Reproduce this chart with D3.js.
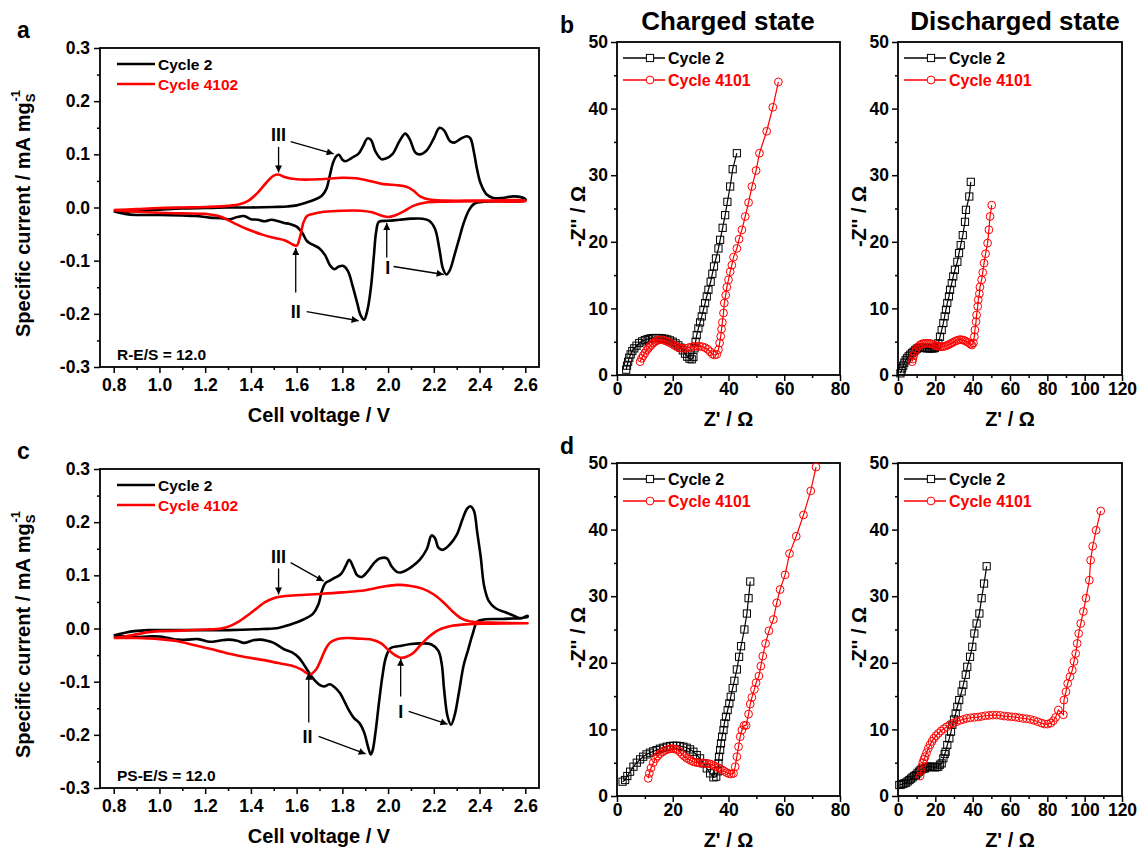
<!DOCTYPE html>
<html><head><meta charset="utf-8">
<script src="https://cdn.jsdelivr.net/npm/d3@7"></script>
<style>body{margin:0;background:#fff}svg{display:block}</style>
</head><body><svg id="chart" width="1139" height="850"></svg>
<script>
// ---------------- DATA ----------------
const cvXTicks=[0.8,1.0,1.2,1.4,1.6,1.8,2.0,2.2,2.4,2.6];
const cvXMinor=[0.9,1.1,1.3,1.5,1.7,1.9,2.1,2.3,2.5];
const cvYTicks=[-0.3,-0.2,-0.1,0.0,0.1,0.2,0.3];
const cvYMinor=[-0.25,-0.15,-0.05,0.05,0.15,0.25];
const eisYTicks=[0,10,20,30,40,50];
const eisYMinor=[5,15,25,35,45];
const eisXTicksCharged=[0,20,40,60,80];
const eisXMinorCharged=[10,30,50,70];
const eisXTicksDischarged=[0,20,40,60,80,100,120];
const eisXMinorDischarged=[10,30,50,70,90,110];

const cvSeriesNames=["Cycle 2","Cycle 4102"];
const eisSeriesNames=["Cycle 2","Cycle 4101"];

// Panel a (R-E/S = 12.0): [V, mA/mg]
const cvA_cycle2=[[0.80,-0.007],[0.85,-0.008],[0.90,-0.006],[1.00,-0.004],[1.10,-0.002],[1.20,-0.001],[1.30,0.000],[1.40,0.000],[1.50,0.001],[1.56,0.002],[1.60,0.004],[1.64,0.009],[1.68,0.015],[1.71,0.022],[1.73,0.035],[1.745,0.06],[1.76,0.085],[1.775,0.097],[1.785,0.099],[1.80,0.09],[1.815,0.087],[1.84,0.093],[1.87,0.101],[1.89,0.115],[1.91,0.130],[1.925,0.127],[1.945,0.105],[1.97,0.091],[1.99,0.092],[2.02,0.101],[2.05,0.125],[2.075,0.139],[2.095,0.128],[2.12,0.103],[2.14,0.100],[2.17,0.108],[2.20,0.130],[2.225,0.150],[2.245,0.145],[2.27,0.125],[2.29,0.122],[2.32,0.130],[2.345,0.134],[2.36,0.130],[2.375,0.105],[2.39,0.07],[2.405,0.045],[2.43,0.025],[2.46,0.018],[2.50,0.018],[2.55,0.021],[2.60,0.016],
[2.60,0.013],[2.50,0.012],[2.42,0.011],[2.38,0.008],[2.355,-0.004],[2.33,-0.030],[2.31,-0.060],[2.29,-0.090],[2.27,-0.118],[2.255,-0.126],[2.24,-0.115],[2.225,-0.080],[2.205,-0.040],[2.18,-0.025],[2.15,-0.021],[2.10,-0.021],[2.05,-0.023],[2.00,-0.025],[1.96,-0.027],[1.948,-0.045],[1.938,-0.090],[1.925,-0.150],[1.91,-0.192],[1.895,-0.211],[1.88,-0.203],[1.865,-0.180],[1.845,-0.148],[1.825,-0.120],[1.805,-0.110],[1.785,-0.111],[1.765,-0.116],[1.745,-0.108],[1.725,-0.090],[1.70,-0.077],[1.67,-0.070],[1.645,-0.063],[1.625,-0.048],[1.60,-0.036],[1.57,-0.031],[1.545,-0.029],[1.52,-0.026],[1.49,-0.023],[1.46,-0.026],[1.43,-0.023],[1.40,-0.022],[1.37,-0.016],[1.34,-0.018],[1.31,-0.022],[1.27,-0.020],[1.22,-0.019],[1.16,-0.016],[1.10,-0.015],[1.00,-0.014],[0.90,-0.014],[0.85,-0.012],[0.80,-0.007]];
const cvA_cycle4102=[[0.80,-0.005],[0.90,-0.003],[1.00,-0.001],[1.10,0.000],[1.20,0.001],[1.30,0.003],[1.35,0.006],[1.39,0.013],[1.43,0.028],[1.47,0.048],[1.50,0.060],[1.52,0.062],[1.55,0.057],[1.60,0.053],[1.70,0.053],[1.80,0.056],[1.86,0.055],[1.92,0.050],[1.98,0.044],[2.04,0.042],[2.08,0.039],[2.11,0.032],[2.14,0.021],[2.18,0.015],[2.25,0.013],[2.40,0.013],[2.60,0.013],
[2.60,0.012],[2.40,0.012],[2.25,0.011],[2.16,0.009],[2.11,0.003],[2.07,-0.007],[2.03,-0.015],[2.00,-0.018],[1.97,-0.015],[1.93,-0.009],[1.88,-0.006],[1.80,-0.006],[1.72,-0.008],[1.67,-0.012],[1.645,-0.016],[1.63,-0.028],[1.615,-0.055],[1.60,-0.072],[1.585,-0.070],[1.55,-0.062],[1.50,-0.057],[1.45,-0.051],[1.38,-0.040],[1.32,-0.028],[1.26,-0.016],[1.20,-0.012],[1.10,-0.011],[1.00,-0.010],[0.90,-0.008],[0.80,-0.005]];

// Panel c (PS-E/S = 12.0)
const cvC_cycle2=[[0.80,-0.013],[0.85,-0.008],[0.89,-0.005],[0.95,-0.003],[1.10,-0.003],[1.30,-0.003],[1.45,-0.001],[1.52,0.001],[1.57,0.007],[1.63,0.017],[1.67,0.027],[1.695,0.045],[1.71,0.07],[1.725,0.085],[1.745,0.09],[1.77,0.096],[1.795,0.103],[1.815,0.118],[1.83,0.129],[1.85,0.113],[1.865,0.100],[1.885,0.097],[1.91,0.107],[1.94,0.124],[1.965,0.132],[1.995,0.132],[2.015,0.117],[2.04,0.106],[2.06,0.106],[2.10,0.115],[2.14,0.130],[2.17,0.150],[2.19,0.175],[2.205,0.170],[2.22,0.152],[2.24,0.148],[2.27,0.158],[2.30,0.176],[2.325,0.205],[2.345,0.225],[2.36,0.230],[2.375,0.222],[2.39,0.18],[2.405,0.135],[2.42,0.08],[2.44,0.052],[2.47,0.038],[2.51,0.031],[2.55,0.024],[2.58,0.019],[2.61,0.024],
[2.61,0.022],[2.50,0.018],[2.42,0.017],[2.39,0.013],[2.37,-0.010],[2.35,-0.040],[2.33,-0.070],[2.31,-0.120],[2.29,-0.165],[2.275,-0.181],[2.26,-0.165],[2.245,-0.115],[2.235,-0.068],[2.22,-0.042],[2.19,-0.030],[2.15,-0.028],[2.10,-0.029],[2.05,-0.033],[2.01,-0.037],[1.99,-0.055],[1.975,-0.090],[1.96,-0.140],[1.945,-0.195],[1.932,-0.230],[1.924,-0.237],[1.912,-0.222],[1.895,-0.195],[1.875,-0.178],[1.85,-0.168],[1.83,-0.155],[1.81,-0.138],[1.79,-0.122],[1.765,-0.110],[1.745,-0.105],[1.72,-0.109],[1.70,-0.106],[1.68,-0.098],[1.66,-0.087],[1.635,-0.070],[1.61,-0.055],[1.58,-0.045],[1.545,-0.039],[1.50,-0.027],[1.47,-0.023],[1.44,-0.021],[1.41,-0.022],[1.37,-0.027],[1.34,-0.023],[1.30,-0.021],[1.26,-0.023],[1.22,-0.025],[1.17,-0.020],[1.12,-0.021],[1.08,-0.021],[1.04,-0.018],[1.00,-0.015],[0.95,-0.015],[0.90,-0.016],[0.85,-0.015],[0.80,-0.013]];
const cvC_cycle4102=[[0.80,-0.018],[0.85,-0.015],[0.90,-0.011],[0.95,-0.007],[1.00,-0.005],[1.10,-0.004],[1.20,-0.002],[1.27,0.000],[1.31,0.005],[1.35,0.014],[1.39,0.026],[1.42,0.036],[1.46,0.049],[1.50,0.057],[1.55,0.061],[1.62,0.063],[1.70,0.065],[1.80,0.068],[1.90,0.072],[1.97,0.078],[2.04,0.082],[2.10,0.080],[2.15,0.075],[2.20,0.064],[2.24,0.050],[2.28,0.033],[2.32,0.019],[2.36,0.013],[2.45,0.011],[2.61,0.010],
[2.61,0.010],[2.45,0.009],[2.35,0.008],[2.28,0.005],[2.22,-0.003],[2.18,-0.015],[2.14,-0.032],[2.11,-0.046],[2.08,-0.053],[2.055,-0.055],[2.03,-0.050],[2.00,-0.040],[1.97,-0.028],[1.93,-0.021],[1.87,-0.019],[1.82,-0.018],[1.77,-0.021],[1.745,-0.027],[1.725,-0.040],[1.705,-0.060],[1.685,-0.077],[1.66,-0.086],[1.645,-0.084],[1.62,-0.077],[1.58,-0.070],[1.52,-0.065],[1.45,-0.059],[1.38,-0.054],[1.30,-0.047],[1.22,-0.038],[1.15,-0.031],[1.08,-0.024],[1.00,-0.020],[0.90,-0.018],[0.80,-0.018]];

// Panel b: Nyquist [Z', -Z'']
const eisB_charged_cycle2=[[3.3,0.8],[3.6,1.4],[4.0,2.0],[4.4,2.6],[4.9,3.1],[5.5,3.6],[6.2,4.0],[7.0,4.4],[8.0,4.8],[9.0,5.05],[10.0,5.25],[11.0,5.4],[12.0,5.5],[13.0,5.55],[14.0,5.55],[15.0,5.55],[16.0,5.5],[17.0,5.45],[18.0,5.35],[19.0,5.2],[20.0,5.0],[21.0,4.75],[22.0,4.45],[22.8,4.1],[23.6,3.7],[24.4,3.2],[25.2,2.75],[26.0,2.45],[26.8,2.35],[27.4,2.7],[27.8,4.0],[28.2,5.0],[28.6,6.0],[29.2,7.0],[29.8,7.9],[30.4,8.8],[31.0,9.8],[31.6,10.8],[32.2,11.8],[32.8,12.8],[33.6,14.0],[34.2,15.2],[34.8,16.3],[35.5,17.5],[36.4,19.0],[37.0,20.3],[37.9,22.1],[38.8,24.0],[39.6,26.0],[40.6,28.3],[41.5,30.9],[43.0,33.3]];
const eisB_charged_cycle4101=[[8.3,2.0],[8.8,2.5],[9.4,2.9],[10.0,3.3],[10.6,3.7],[11.2,4.0],[11.8,4.3],[12.4,4.55],[13.0,4.8],[13.6,5.0],[14.2,5.15],[14.8,5.25],[15.6,5.3],[16.6,5.25],[17.6,5.1],[18.4,4.95],[19.2,4.8],[20.0,4.6],[20.8,4.4],[21.6,4.2],[22.6,4.05],[23.6,4.0],[24.6,4.0],[25.6,4.1],[26.6,4.2],[27.6,4.3],[28.6,4.3],[29.6,4.3],[30.6,4.25],[31.6,4.1],[32.6,3.85],[33.4,3.5],[34.2,3.15],[35.0,3.0],[35.8,3.1],[36.4,3.8],[36.8,4.8],[37.2,5.8],[37.5,6.9],[37.8,7.9],[38.2,9.3],[38.5,10.8],[39.0,12.0],[39.4,13.2],[40.0,14.3],[40.6,15.5],[41.2,16.5],[41.8,17.7],[43.0,19.0],[43.8,20.4],[44.8,21.8],[46.0,23.8],[47.2,25.9],[48.4,28.3],[49.9,30.7],[51.1,33.3],[53.7,36.6],[55.9,40.2],[57.9,44.0]];
const eisB_discharged_cycle2=[[1.3,0.25],[1.8,0.6],[2.2,1.0],[2.8,1.4],[3.4,1.85],[4.1,2.2],[4.8,2.5],[5.7,2.8],[6.6,3.05],[7.5,3.3],[8.4,3.5],[9.3,3.75],[10.1,3.95],[11.0,4.05],[11.9,4.1],[12.8,4.1],[13.7,4.1],[14.6,4.05],[15.5,4.0],[16.4,4.0],[17.3,4.0],[18.2,4.0],[19.0,4.0],[19.8,4.05],[20.7,4.25],[21.6,4.75],[22.5,5.75],[23.4,6.75],[24.3,7.8],[25.0,8.8],[25.7,9.8],[26.4,10.8],[27.3,11.8],[27.9,12.8],[28.8,13.8],[29.6,14.8],[30.5,15.8],[31.8,17.0],[32.7,18.3],[33.6,19.5],[34.7,21.0],[35.9,23.0],[36.4,24.8],[38.2,26.8],[39.0,29.0]];
const eisB_discharged_cycle4101=[[7.6,2.0],[7.9,2.4],[8.4,2.9],[9.0,3.4],[9.8,3.9],[10.8,4.25],[11.8,4.5],[12.8,4.65],[13.8,4.75],[14.8,4.75],[15.8,4.75],[16.8,4.75],[17.8,4.7],[18.8,4.6],[19.8,4.45],[20.8,4.35],[21.8,4.3],[22.8,4.25],[23.8,4.25],[24.8,4.3],[25.8,4.4],[26.8,4.5],[27.8,4.65],[28.8,4.8],[29.8,4.95],[30.8,5.1],[31.8,5.2],[32.8,5.3],[33.8,5.3],[34.8,5.25],[35.8,5.15],[36.8,5.0],[37.8,4.85],[38.8,4.65],[39.6,4.5],[40.4,4.8],[40.9,5.75],[41.2,6.75],[41.8,8.0],[42.1,9.0],[42.7,10.3],[43.0,11.3],[43.6,12.2],[43.9,13.2],[44.8,14.3],[45.4,15.4],[46.1,16.8],[46.9,18.2],[48.0,19.8],[48.7,21.8],[49.3,23.8],[50.2,25.5]];

// Panel d
const eisD_charged_cycle2=[[2.0,2.15],[2.9,2.4],[3.7,3.0],[4.7,3.65],[5.9,4.4],[7.1,5.0],[8.3,5.5],[9.4,5.9],[10.6,6.25],[11.8,6.5],[13.0,6.7],[14.2,6.9],[15.4,7.1],[16.6,7.25],[17.8,7.4],[19.0,7.5],[20.2,7.55],[21.4,7.55],[22.6,7.5],[23.8,7.4],[25.0,7.25],[26.2,7.0],[27.4,6.65],[28.6,6.15],[29.8,5.65],[31.0,4.9],[32.2,4.15],[33.4,3.4],[34.6,2.8],[35.6,2.9],[36.2,3.7],[36.4,4.9],[36.6,5.9],[37.0,6.9],[37.3,7.9],[37.7,8.9],[38.2,9.9],[38.5,10.9],[39.1,11.9],[39.7,12.9],[40.3,13.9],[40.8,14.9],[41.5,16.2],[42.1,17.3],[43.0,19.0],[43.8,20.9],[44.5,22.5],[45.7,25.0],[46.6,27.4],[47.2,29.7],[47.8,32.2]];
const eisD_charged_cycle4101=[[11.2,2.65],[11.6,3.4],[12.2,4.2],[13.0,5.0],[13.8,5.6],[14.6,6.0],[15.4,6.35],[16.2,6.6],[17.0,6.8],[17.8,6.95],[18.6,7.05],[19.4,7.1],[20.2,7.1],[21.0,7.05],[21.8,6.9],[22.6,6.6],[23.4,6.25],[24.2,5.95],[25.0,5.7],[25.8,5.5],[26.6,5.3],[27.4,5.15],[28.2,5.05],[29.0,5.0],[29.8,4.95],[30.6,4.95],[31.4,4.9],[32.2,4.9],[33.0,4.85],[33.8,4.75],[34.6,4.6],[35.4,4.45],[36.2,4.25],[37.0,4.1],[37.8,3.9],[38.6,3.7],[39.4,3.5],[40.2,3.35],[41.0,3.3],[41.8,3.4],[42.4,4.4],[43.0,5.9],[43.6,7.4],[44.2,8.9],[44.8,9.9],[45.6,10.6],[46.3,10.6],[47.2,12.3],[47.8,13.8],[48.4,14.8],[49.3,16.0],[49.9,17.0],[50.9,18.0],[51.6,19.5],[52.3,21.0],[53.3,22.9],[54.5,24.8],[56.1,26.5],[57.3,29.0],[58.5,31.0],[60.3,33.2],[61.9,36.4],[64.3,39.0],[66.9,42.2],[69.5,45.8],[71.4,49.4]];
const eisD_discharged_cycle2=[[0.7,1.65],[1.6,1.7],[2.5,1.8],[3.4,1.9],[4.3,2.0],[5.2,2.2],[6.1,2.4],[7.0,2.6],[7.8,2.8],[8.7,3.0],[9.6,3.15],[10.4,3.4],[11.2,3.65],[12.0,3.85],[12.7,4.0],[13.6,4.1],[14.5,4.15],[15.4,4.3],[16.2,4.4],[17.1,4.4],[18.0,4.4],[18.9,4.35],[19.8,4.3],[20.7,4.35],[21.6,4.4],[22.5,4.7],[23.4,4.9],[24.3,5.65],[25.0,6.3],[25.5,6.65],[26.4,7.65],[27.5,8.65],[28.4,9.65],[29.1,10.7],[30.0,11.5],[30.9,12.4],[31.8,13.4],[32.8,14.4],[34.1,15.7],[35.0,16.7],[36.3,18.2],[37.1,19.4],[38.6,20.9],[39.8,22.4],[40.9,24.4],[42.1,25.9],[43.6,27.4],[44.8,29.7],[46.1,31.9],[47.5,34.5]];
const eisD_discharged_cycle4101=[[11.8,3.0],[12.3,3.7],[12.7,4.4],[13.3,5.0],[13.9,5.5],[14.5,5.9],[15.3,6.5],[16.2,7.15],[17.2,7.7],[18.2,8.2],[19.2,8.65],[20.4,9.05],[21.6,9.4],[23.0,9.75],[24.6,10.1],[26.1,10.4],[27.8,10.7],[29.6,10.95],[31.4,11.15],[33.2,11.35],[35.0,11.5],[36.8,11.65],[38.8,11.75],[40.8,11.8],[42.8,11.85],[44.8,11.95],[46.8,12.05],[48.8,12.1],[50.8,12.15],[52.9,12.15],[54.9,12.1],[56.9,12.0],[58.9,11.95],[60.9,11.9],[62.9,11.85],[64.9,11.75],[66.9,11.65],[68.9,11.6],[70.9,11.5],[72.9,11.35],[74.9,11.15],[76.9,10.95],[78.6,10.8],[80.2,10.8],[81.8,10.95],[83.2,11.3],[84.4,11.8],[85.9,12.9],[88.6,12.2],[88.9,14.4],[90.0,15.65],[90.9,16.9],[92.1,17.9],[93.4,18.9],[94.3,20.2],[95.2,21.4],[96.0,22.9],[96.8,24.4],[97.9,25.9],[99.3,27.7],[100.7,29.7],[102.5,32.4],[103.2,35.4],[104.3,37.5],[106.1,39.9],[108.6,42.8]];

// Peak annotations (data units): label position and arrows [x1,y1,x2,y2]
const annotA=[
 {t:"III",p:[1.521,0.137],arrows:[[1.574,0.124,1.762,0.101],[1.521,0.114,1.521,0.066]]},
 {t:"II",p:[1.596,-0.196],arrows:[[1.644,-0.196,1.871,-0.213],[1.596,-0.160,1.596,-0.076]]},
 {t:"I",p:[1.998,-0.113],arrows:[[2.024,-0.111,2.243,-0.126],[1.994,-0.094,1.994,-0.029]]}];
const annotC=[
 {t:"III",p:[1.521,0.135],arrows:[[1.574,0.124,1.718,0.089],[1.521,0.113,1.521,0.064]]},
 {t:"II",p:[1.648,-0.203],arrows:[[1.696,-0.203,1.902,-0.236],[1.653,-0.177,1.653,-0.083]]},
 {t:"I",p:[2.055,-0.156],arrows:[[2.09,-0.156,2.26,-0.180],[2.055,-0.128,2.055,-0.057]]}];

// ---------------- DRAWING ----------------
const FONT='"Liberation Sans", Arial, Helvetica, sans-serif';
const RED='#ff0000', BLACK='#000000';
const svg=d3.select('#chart');
svg.append('rect').attr('width',1139).attr('height',850).attr('fill','#fff');
const defs=svg.append('defs');
defs.append('marker').attr('id','ah').attr('viewBox','0 0 10 10').attr('refX',10).attr('refY',5)
  .attr('markerWidth',9).attr('markerHeight',7).attr('markerUnits','userSpaceOnUse').attr('orient','auto')
  .append('path').attr('d','M0,0 L10,5 L0,10 Z').attr('fill','#000');

function txt(x,y,s,fs,opt={}){
  return svg.append('text').attr('x',x).attr('y',y).text(s)
   .attr('font-family',FONT).attr('font-weight','bold').attr('font-size',fs)
   .attr('fill',opt.fill||'#000').attr('text-anchor',opt.anchor||'start');
}

function panel(o){
  const x=d3.scaleLinear().domain(o.xd).range([o.x0,o.x1]);
  const y=d3.scaleLinear().domain(o.yd).range([o.y1,o.y0]);
  const g=svg.append('g');
  const style=(s)=>{s.select('.domain').remove();
    s.attr('font-family',FONT).attr('font-weight','bold');
    s.selectAll('line').attr('stroke','#000').attr('stroke-width',1.5);
    s.selectAll('text').attr('font-size',o.fs).attr('fill','#000');};
  g.append('g').attr('transform',`translate(0,${o.y1})`)
   .call(d3.axisBottom(x).tickValues(o.xt).tickSize(6).tickPadding(o.xpad).tickFormat(o.fx)).call(style);
  g.append('g').attr('transform',`translate(0,${o.y1})`)
   .call(d3.axisBottom(x).tickValues(o.xm).tickSize(3).tickFormat('')).call(style);
  g.append('g').attr('transform',`translate(${o.x0},0)`)
   .call(d3.axisLeft(y).tickValues(o.yt).tickSize(6).tickPadding(o.ypad).tickFormat(o.fy)).call(style);
  g.append('g').attr('transform',`translate(${o.x0},0)`)
   .call(d3.axisLeft(y).tickValues(o.ym).tickSize(3).tickFormat('')).call(style);
  g.append('rect').attr('x',o.x0).attr('y',o.y0).attr('width',o.x1-o.x0).attr('height',o.y1-o.y0)
   .attr('fill','none').attr('stroke','#000').attr('stroke-width',1.8);
  return {g,x,y};
}

const f1=d=>d.toFixed(1), f0=d=>String(d);

function cvPanel(y0,y1,blackData,redData,annots,note,letter,letterY){
  const p=panel({x0:100,x1:539,y0,y1,xd:[0.74,2.66],yd:[-0.3,0.3],xt:cvXTicks,xm:cvXMinor,yt:cvYTicks,ym:cvYMinor,fx:f1,fy:f1,fs:17.5,xpad:6,ypad:4});
  const ln=d3.line().x(d=>p.x(d[0])).y(d=>p.y(d[1])).curve(d3.curveCatmullRom.alpha(0.5));
  p.g.append('path').datum(blackData).attr('d',ln).attr('fill','none').attr('stroke',BLACK).attr('stroke-width',2.6).attr('stroke-linejoin','round');
  p.g.append('path').datum(redData).attr('d',ln).attr('fill','none').attr('stroke',RED).attr('stroke-width',2.6).attr('stroke-linejoin','round');
  annots.forEach(a=>{
    p.g.append('text').attr('x',p.x(a.p[0])).attr('y',p.y(a.p[1])).attr('dy','0.36em').text(a.t)
      .attr('text-anchor','middle').attr('font-family',FONT).attr('font-weight','bold').attr('font-size',18);
    a.arrows.forEach(r=>p.g.append('line').attr('x1',p.x(r[0])).attr('y1',p.y(r[1])).attr('x2',p.x(r[2])).attr('y2',p.y(r[3]))
      .attr('stroke','#000').attr('stroke-width',1.3).attr('marker-end','url(#ah)'));
  });
  // legend
  const ly=y0+16;
  [[BLACK,cvSeriesNames[0]],[RED,cvSeriesNames[1]]].forEach((s,i)=>{
    const yy=ly+i*20;
    p.g.append('line').attr('x1',117).attr('x2',155).attr('y1',yy).attr('y2',yy).attr('stroke',s[0]).attr('stroke-width',2.6);
    txt(158,yy+5.5,s[1],15.5,{fill:s[0]});
  });
  txt(117,y1-7,note,15.5);
  // axis titles
  const yl=svg.append('text').attr('transform',`translate(30,${(y0+y1)/2+6}) rotate(-90)`).attr('text-anchor','middle')
    .attr('font-family',FONT).attr('font-weight','bold').attr('font-size',20);
  yl.append('tspan').text('Specific current / mA mg');
  yl.append('tspan').attr('font-size',13).attr('dy',5).text('S');
  yl.append('tspan').attr('font-size',13).attr('dx',-8).attr('dy',-15).text('-1');
  txt(319,y1+55,'Cell voltage / V',20,{anchor:'middle'});
  txt(17,letterY,letter,23);
}

function eisPanel(x0,x1,y0,y1,xd,xt,xm,blackData,redData){
  const p=panel({x0,x1,y0,y1,xd,yd:[0,50],xt,xm,yt:eisYTicks,ym:eisYMinor,fx:f0,fy:f0,fs:17.5,xpad:2,ypad:3});
  const ln=d3.line().x(d=>p.x(d[0])).y(d=>p.y(d[1]));
  p.g.append('path').datum(blackData).attr('d',ln).attr('fill','none').attr('stroke',BLACK).attr('stroke-width',1.2);
  p.g.selectAll(null).data(blackData).enter().append('rect')
    .attr('x',d=>p.x(d[0])-3.6).attr('y',d=>p.y(d[1])-3.6).attr('width',7.2).attr('height',7.2)
    .attr('fill','none').attr('stroke',BLACK).attr('stroke-width',1);
  p.g.append('path').datum(redData).attr('d',ln).attr('fill','none').attr('stroke',RED).attr('stroke-width',1.2);
  p.g.selectAll(null).data(redData).enter().append('circle')
    .attr('cx',d=>p.x(d[0])).attr('cy',d=>p.y(d[1])).attr('r',3.9)
    .attr('fill','none').attr('stroke',RED).attr('stroke-width',1);
  // legend
  const lx=x0+6, ly=y0+16;
  [[BLACK,eisSeriesNames[0],'sq'],[RED,eisSeriesNames[1],'ci']].forEach((s,i)=>{
    const yy=ly+i*22, mx=lx+27;
    p.g.append('line').attr('x1',lx).attr('x2',lx+42).attr('y1',yy).attr('y2',yy).attr('stroke',s[0]).attr('stroke-width',1.3);
    if(s[2]==='sq') p.g.append('rect').attr('x',mx-3.6).attr('y',yy-3.6).attr('width',7.2).attr('height',7.2).attr('fill','#fff').attr('stroke',s[0]);
    else p.g.append('circle').attr('cx',mx).attr('cy',yy).attr('r',3.9).attr('fill','#fff').attr('stroke',s[0]);
    txt(lx+45,yy+5.5,s[1],16,{fill:s[0]});
  });
  svg.append('text').attr('transform',`translate(${x0-32},${(y0+y1)/2+8}) rotate(-90)`).attr('text-anchor','middle')
    .attr('font-family',FONT).attr('font-weight','bold').attr('font-size',20).text("-Z'' / \u03A9");
  txt((x0+x1)/2,y1+51,"Z' / \u03A9",20,{anchor:'middle'});
}

cvPanel(48,367,cvA_cycle2,cvA_cycle4102,annotA,'R-E/S = 12.0','a',38);
cvPanel(469,788,cvC_cycle2,cvC_cycle4102,annotC,'PS-E/S = 12.0','c',459);

eisPanel(617,840,42,375,[0,80],eisXTicksCharged,eisXMinorCharged,eisB_charged_cycle2,eisB_charged_cycle4101);
eisPanel(898,1122,42,375,[0,120],eisXTicksDischarged,eisXMinorDischarged,eisB_discharged_cycle2,eisB_discharged_cycle4101);
eisPanel(617,840,463,796,[0,80],eisXTicksCharged,eisXMinorCharged,eisD_charged_cycle2,eisD_charged_cycle4101);
eisPanel(898,1122,463,796,[0,120],eisXTicksDischarged,eisXMinorDischarged,eisD_discharged_cycle2,eisD_discharged_cycle4101);

txt(728,30,'Charged state',26,{anchor:'middle'});
txt(1015,30,'Discharged state',26,{anchor:'middle'});
txt(560,33,'b',23);
txt(560,454,'d',23);
</script></body></html>
